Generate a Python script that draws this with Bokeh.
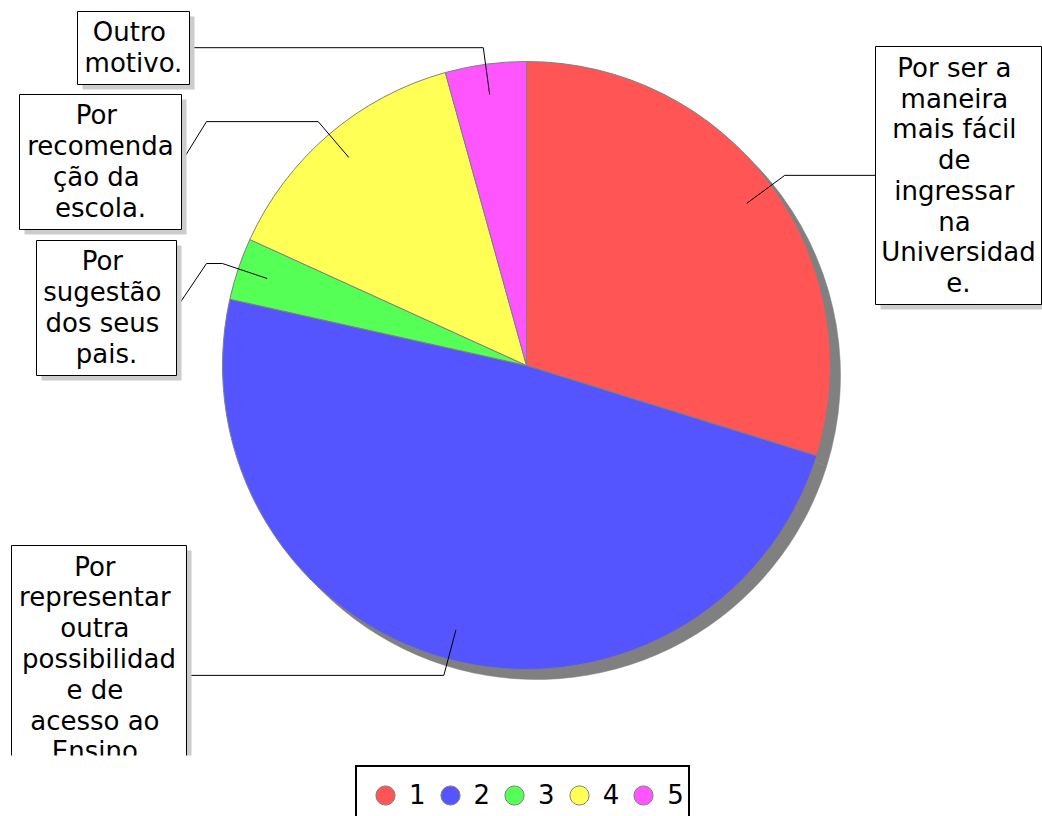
import numpy as np
from bokeh.plotting import figure
from bokeh.models import ColumnDataSource, Range1d, Legend, LegendItem
from bokeh.core.properties import value
from bokeh.embed import file_html
from bokeh.resources import INLINE

# ---------------- data ----------------
categories = ["1", "2", "3", "4", "5"]
shares = [29.8, 48.7, 3.3, 13.9, 4.3]
colors = ["#FF5555", "#5555FF", "#55FF55", "#FFFF55", "#FF55FF"]
labels = [
    "Por ser a \nmaneira \nmais fácil \nde \ningressar \nna \nUniversidad\ne.",
    "Por \nrepresentar \noutra \npossibilidad\ne de \nacesso ao \nEnsino ",
    "Por \nsugestão \ndos seus \npais.",
    "Por \nrecomenda\nção da \nescola.",
    "Outro \nmotivo.",
]

# ---------------- layout (page pixels, y downwards) ----------------
W, H = 1042, 816
OY = H                    # data y = OY - py ; data x = px
CLIP_Y = 755              # plot area ends here in the reference
CX, CY, R = 526, 365, 304
SHADOW = 10
box_l = [875, 11, 36, 19, 77]
box_t = [46, 545, 240, 94, 11]
box_r = [1041, 186, 176, 181, 189]
box_b = [304, 804, 375, 229, 84]
knee_x = [875, 186, 206, 206, 189]
LINE = 31
FS = 26
FONT_NAME = "DejaVu Sans"
FONT = value(FONT_NAME)

# ---------------- geometry from data ----------------
v = np.array(shares, dtype=float)
n = len(v)
total = v.sum()
cum = np.cumsum(v)
start = np.pi / 2 - 2 * np.pi * (cum - v) / total
end = np.pi / 2 - 2 * np.pi * cum / total
mid = (start + end) / 2
cx, cy = CX, OY - CY

src = ColumnDataSource(dict(
    cat=categories, share=shares, color=colors, start=start, end=end,
    x=[cx] * n, y=[cy] * n,
    sx=[cx + SHADOW] * n, sy=[cy - SHADOW] * n,
    nx=[np.nan] * n, ny=[np.nan] * n,
))

p = figure(width=W, height=H, x_range=Range1d(0, W), y_range=Range1d(0, H),
           min_border=0, toolbar_location=None,
           output_backend="svg", x_axis_type=None, y_axis_type=None)
p.grid.visible = False
p.outline_line_color = None
p.background_fill_color = "white"
p.border_fill_color = "white"

# shadow + pie
p.wedge(x="sx", y="sy", radius=R, start_angle="start", end_angle="end",
        direction="clock", fill_color="#808080", line_color="#808080",
        line_width=0.5, source=src)
p.wedge(x="x", y="y", radius=R, start_angle="start", end_angle="end",
        direction="clock", fill_color="color", line_color="#808080",
        line_width=1, source=src)

# leader lines
xs, ys = [], []
for i in range(n):
    c, s = np.cos(mid[i]), np.sin(mid[i])
    p0 = (cx + 0.9 * R * c, cy + 0.9 * R * s)
    p1 = (cx + 1.055 * R * c, cy + 1.055 * R * s)
    p2 = (knee_x[i], p1[1])
    edge = box_l[i] if knee_x[i] > CX else box_r[i]
    p3 = (edge, OY - (box_t[i] + box_b[i]) / 2)
    xs.append([p0[0], p1[0], p2[0], p3[0]])
    ys.append([p0[1], p1[1], p2[1], p3[1]])
p.multi_line(xs=xs, ys=ys, line_color="black", line_width=1)

# label boxes
bl = np.array(box_l, dtype=float)
br = np.array(box_r, dtype=float)
bt = OY - np.array(box_t, dtype=float)
bb = OY - np.array(box_b, dtype=float)
p.quad(left=bl + 5, right=br + 5, top=bt - 5, bottom=bb - 5,
       fill_color="#CCCCCC", line_color=None)
p.quad(left=bl, right=br, top=bt, bottom=bb,
       fill_color="white", line_color="black", line_width=1)

tx = (bl + br) / 2
ty = [OY - (box_t[i] + 5 + (labels[i].count("\n") + 1) * LINE / 2) for i in range(n)]
p.text(x=tx, y=ty, text=labels, text_align="center", text_baseline="middle",
       text_font=FONT, text_font_size=f"{FS}px", text_color="black",
       text_line_height=1.026)

# the reference's plot area ends at CLIP_Y: blank band under it
p.quad(left=[0], right=[W], top=[OY - CLIP_Y], bottom=[0],
       fill_color="white", line_color=None)

# legend (markers with no position, only used as legend glyphs)
lr = p.scatter(x="nx", y="ny", marker="circle", fill_color="color",
               line_color="#808080", line_width=1, source=src)
items = [LegendItem(label=c, renderers=[lr], index=i) for i, c in enumerate(categories)]
legend = Legend(items=items, orientation="horizontal", location=(355, -9),
                glyph_width=48, glyph_height=48, padding=4, spacing=0,
                label_standoff=0, label_width=0, label_text_font=FONT_NAME,
                label_text_font_size=f"{FS}px", label_text_color="black",
                border_line_color="black", border_line_alpha=1,
                border_line_width=2, margin=0, background_fill_color="white",
                background_fill_alpha=1)
p.add_layout(legend)

open("out.html", "w").write(file_html(p, INLINE))
